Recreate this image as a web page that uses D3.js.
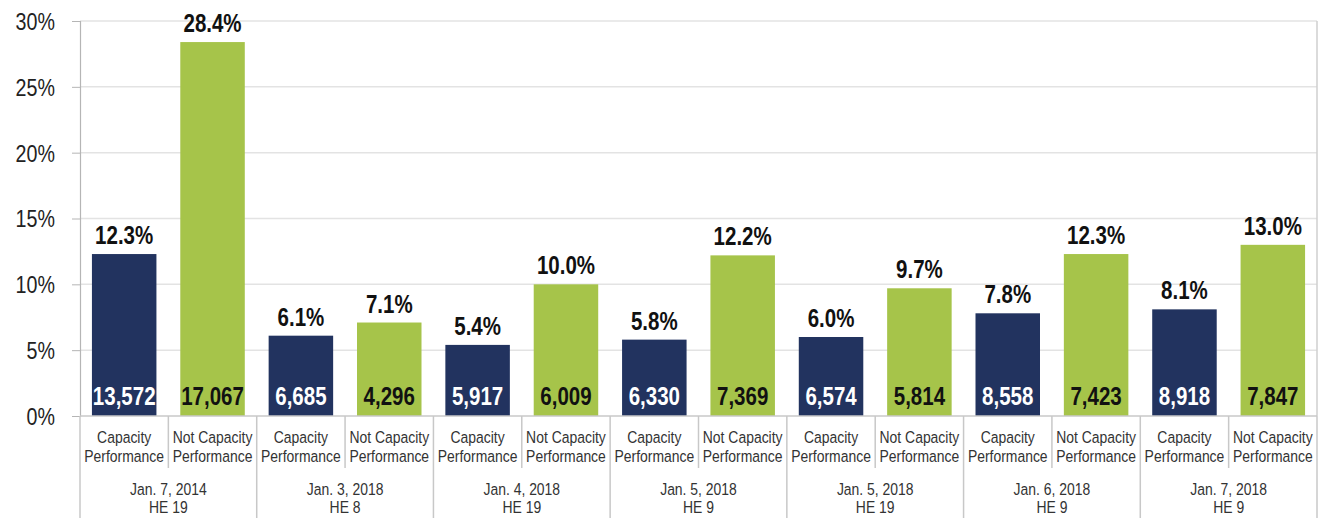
<!DOCTYPE html>
<html>
<head>
<meta charset="utf-8">
<script src="https://cdn.jsdelivr.net/npm/d3@7"></script>
<style>
  body { margin: 0; background: #fff; }
  svg { display: block; font-family: "Liberation Sans", Arial, sans-serif; }
</style>
</head>
<body>
<div id="chart"></div>
<script>
// chart data
var dates = ["Jan. 7, 2014", "Jan. 3, 2018", "Jan. 4, 2018", "Jan. 5, 2018", "Jan. 5, 2018", "Jan. 6, 2018", "Jan. 7, 2018"];
var hours = ["HE 19", "HE 8", "HE 19", "HE 9", "HE 19", "HE 9", "HE 9"];
var series = ["Capacity|Performance", "Not Capacity|Performance"];
var capPct = [12.3, 6.1, 5.4, 5.8, 6.0, 7.8, 8.1];
var notCapPct = [28.4, 7.1, 10.0, 12.2, 9.7, 12.3, 13.0];
var capCount = [13572, 6685, 5917, 6330, 6574, 8558, 8918];
var notCapCount = [17067, 4296, 6009, 7369, 5814, 7423, 7847];
var yTicks = [0, 5, 10, 15, 20, 25, 30];

var svgWidth = 1325;
var svgHeight = 518;

var margin = { top: 21, right: 8, bottom: 102, left: 80 };
var width = svgWidth - margin.left - margin.right;
var height = svgHeight - margin.top - margin.bottom;

var colors = ["#22335f", "#a6c44a"];
var textColors = ["#ffffff", "#111111"];

// the original uses a narrow font, so squeeze text horizontally
var narrow = 0.82;

var svg = d3.select("#chart")
  .append("svg")
  .attr("width", svgWidth)
  .attr("height", svgHeight);

var chartGroup = svg.append("g")
  .attr("transform", `translate(${margin.left}, ${margin.top})`);

// flatten into one row per bar
var data = [];
dates.forEach(function(d, i) {
  data.push({ group: i, key: 0, pct: capPct[i], count: capCount[i] });
  data.push({ group: i, key: 1, pct: notCapPct[i], count: notCapCount[i] });
});

var x0 = d3.scaleBand()
  .domain(d3.range(dates.length))
  .range([0, width]);

var x1 = d3.scaleBand()
  .domain([0, 1])
  .range([0, x0.bandwidth()])
  .paddingInner(0.27)
  .paddingOuter(0.135);

var xSub = d3.scaleBand()
  .domain([0, 1])
  .range([0, x0.bandwidth()]);

var yScale = d3.scaleLinear()
  .domain([0, 30])
  .range([height, 0]);

// gridlines
chartGroup.append("g")
  .selectAll("line")
  .data(yTicks.slice(1))
  .enter()
  .append("line")
  .attr("x1", 0)
  .attr("x2", width)
  .attr("y1", d => yScale(d))
  .attr("y2", d => yScale(d))
  .attr("stroke", "#e3e3e3")
  .attr("stroke-width", 1.5);

// right border
chartGroup.append("line")
  .attr("x1", width)
  .attr("x2", width)
  .attr("y1", 0)
  .attr("y2", height)
  .attr("stroke", "#cfcfcf")
  .attr("stroke-width", 1.5);

// y axis
var leftAxis = d3.axisLeft(yScale)
  .tickValues(yTicks)
  .tickSize(8)
  .tickFormat(d => d + "%");

var yAxis = chartGroup.append("g").call(leftAxis);
yAxis.select(".domain").attr("stroke", "#b5b5b5").attr("stroke-width", 1.2);
yAxis.selectAll(".tick line").attr("stroke", "#b5b5b5");
yAxis.selectAll(".tick text")
  .attr("fill", "#222")
  .style("font-size", "24px")
  .attr("x", -25 / narrow)
  .attr("dy", "0.35em")
  .attr("transform", `scale(${narrow}, 1)`);

// bars
var bars = chartGroup.selectAll("g.bar")
  .data(data)
  .enter()
  .append("g")
  .attr("transform", d => `translate(${x0(d.group) + x1(d.key)}, 0)`);

bars.append("rect")
  .attr("x", 0)
  .attr("y", d => yScale(d.pct))
  .attr("width", x1.bandwidth())
  .attr("height", d => height - yScale(d.pct))
  .attr("fill", d => colors[d.key]);

// percent labels above
bars.append("text")
  .attr("transform", d => `translate(${x1.bandwidth() / 2}, ${yScale(d.pct) - 10}) scale(${narrow}, 1)`)
  .attr("text-anchor", "middle")
  .style("font-size", "25px")
  .style("font-weight", "bold")
  .attr("fill", "#111")
  .text(d => d.pct.toFixed(1) + "%");

// counts inside
bars.append("text")
  .attr("transform", `translate(${x1.bandwidth() / 2}, ${height - 11}) scale(${narrow}, 1)`)
  .attr("text-anchor", "middle")
  .style("font-size", "25px")
  .style("font-weight", "bold")
  .attr("fill", d => textColors[d.key])
  .text(d => d3.format(",")(d.count));

// category axis below
var catGroup = chartGroup.append("g")
  .attr("transform", `translate(0, ${height})`);

catGroup.append("line")
  .attr("x1", 0)
  .attr("x2", width)
  .attr("stroke", "#c8c8c8")
  .attr("stroke-width", 1.5);

// group separators to the bottom
catGroup.selectAll("line.grp")
  .data(d3.range(dates.length + 1))
  .enter()
  .append("line")
  .attr("x1", d => d === dates.length ? width : x0(d))
  .attr("x2", d => d === dates.length ? width : x0(d))
  .attr("y1", 0)
  .attr("y2", margin.bottom)
  .attr("stroke", "#c8c8c8")
  .attr("stroke-width", 1.5);

// sub separators
catGroup.selectAll("line.sub")
  .data(d3.range(dates.length))
  .enter()
  .append("line")
  .attr("x1", d => x0(d) + xSub(1))
  .attr("x2", d => x0(d) + xSub(1))
  .attr("y1", 0)
  .attr("y2", 52)
  .attr("stroke", "#c8c8c8")
  .attr("stroke-width", 1.5);

// series labels
var subLabels = catGroup.selectAll("text.sub")
  .data(data)
  .enter()
  .append("text")
  .attr("text-anchor", "middle")
  .attr("fill", "#333")
  .style("font-size", "17px")
  .attr("transform", d => `translate(${x0(d.group) + xSub(d.key) + xSub.bandwidth() / 2}, 0) scale(${narrow}, 1)`);

subLabels.append("tspan")
  .attr("x", 0)
  .attr("y", 27)
  .text(d => series[d.key].split("|")[0]);

subLabels.append("tspan")
  .attr("x", 0)
  .attr("y", 46)
  .text(d => series[d.key].split("|")[1]);

// date labels
var dateLabels = catGroup.selectAll("text.date")
  .data(dates)
  .enter()
  .append("text")
  .attr("text-anchor", "middle")
  .attr("fill", "#333")
  .style("font-size", "17px")
  .attr("transform", (d, i) => `translate(${x0(i) + x0.bandwidth() / 2}, 0) scale(${narrow}, 1)`);

dateLabels.append("tspan")
  .attr("x", 0)
  .attr("y", 79)
  .text(d => d);

dateLabels.append("tspan")
  .attr("x", 0)
  .attr("y", 97)
  .text((d, i) => hours[i]);
</script>
</body>
</html>
